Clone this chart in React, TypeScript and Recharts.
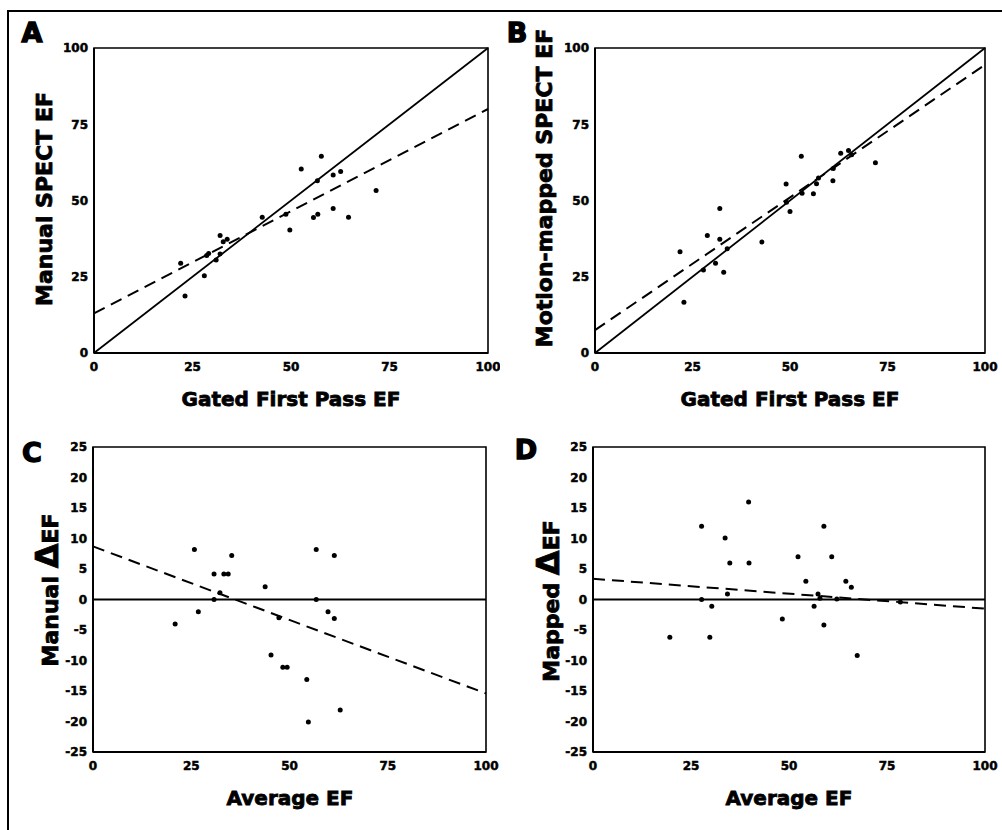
import React from "react";
import {
  ScatterChart,
  Scatter,
  XAxis,
  YAxis,
  ReferenceLine,
  ReferenceArea,
} from "recharts";

// tick labels
const efTicks = [0, 25, 50, 75, 100];
const deltaTicks = [-25, -20, -15, -10, -5, 0, 5, 10, 15, 20, 25];

// A: manual SPECT EF vs gated first pass EF
const aFirstPass = [22.0, 23.1, 28.0, 28.6, 29.1, 31.0, 32.0, 32.0, 32.8, 33.8, 42.7, 48.7, 49.7, 52.6, 57.7, 56.7, 55.7, 56.8, 60.7, 62.6, 60.7, 64.6, 71.6];
const aManual = [29.4, 18.7, 25.3, 32.0, 32.6, 30.5, 38.5, 32.5, 36.5, 37.3, 44.5, 45.5, 40.3, 60.3, 64.5, 56.5, 44.4, 45.5, 58.4, 59.5, 47.4, 44.5, 53.3];
const aFit = [{ x: 0, y: 13 }, { x: 100, y: 80 }];

// B: motion-mapped SPECT EF vs gated first pass EF
const bFirstPass = [21.8, 22.8, 27.8, 28.8, 30.9, 32.0, 32.0, 33.0, 33.9, 42.8, 49.0, 49.1, 50.0, 52.9, 53.1, 56.0, 56.8, 57.3, 61.0, 61.1, 63.0, 65.0, 65.8, 71.9];
const bMapped = [33.2, 16.6, 27.2, 38.5, 29.4, 47.4, 37.3, 26.5, 34.2, 36.4, 55.4, 49.4, 46.4, 64.5, 52.4, 52.2, 55.5, 57.4, 56.5, 60.5, 65.5, 66.4, 65.0, 62.4];
const bFit = [{ x: 0, y: 7.5 }, { x: 100, y: 94.5 }];

// C: manual delta EF vs average EF
const cAverage = [20.9, 25.8, 26.8, 30.8, 30.8, 32.3, 33.3, 34.4, 35.3, 43.8, 45.3, 47.3, 48.3, 49.4, 54.4, 54.8, 56.8, 56.8, 59.8, 61.4, 61.4, 62.9];
const cDelta = [-4.0, 8.2, -2.0, 4.2, 0, 1.1, 4.2, 4.2, 7.2, 2.1, -9.1, -3.0, -11.1, -11.1, -13.1, -20.1, 8.2, 0, -2.0, 7.2, -3.1, -18.1];
const cFit = [{ x: 0, y: 8.7 }, { x: 100, y: -15.4 }];

// D: mapped delta EF vs average EF
const dAverage = [19.6, 27.7, 27.7, 30.3, 29.8, 33.7, 34.3, 34.9, 39.7, 39.8, 48.3, 52.3, 54.3, 56.4, 57.4, 57.9, 58.9, 58.9, 60.9, 62.2, 64.5, 65.9, 67.4, 78.4];
const dDelta = [-6.2, 12.0, 0, -1.1, -6.2, 10.1, 0.9, 6.0, 16.0, 6.0, -3.2, 7.0, 3.0, -1.1, 0.9, 0.2, 12.0, -4.2, 7.0, 0.1, 3.0, 2.0, -9.2, -0.4];
const dFit = [{ x: 0, y: 3.4 }, { x: 100, y: -1.5 }];

const identity = [{ x: 0, y: 0 }, { x: 100, y: 100 }];

const FONT = "'DejaVu Sans', 'Liberation Sans', Arial, sans-serif";
const tickStyle = { fontSize: 12, fontWeight: 700, fill: "#000", fontFamily: FONT, stroke: "#000", strokeWidth: 0.5 };

const zip = (xs: number[], ys: number[]) => xs.map((x, i) => ({ x, y: ys[i] }));

const Dot = (props: any) => <circle cx={props.cx} cy={props.cy} r={2.5} fill="#000" />;

interface PanelProps {
  left: number;
  top: number;
  yWidth: number;
  margin: { top: number; right: number; bottom: number; left: number };
  xs: number[];
  ys: number[];
  fit: { x: number; y: number }[];
  delta?: boolean;
}

function Panel({ left, top, yWidth, margin, xs, ys, fit, delta }: PanelProps) {
  const yDomain = delta ? [-25, 25] : [0, 100];
  return (
    <div style={{ position: "absolute", left, top }}>
      <ScatterChart width={500} height={420} margin={margin}>
        <XAxis
          type="number"
          dataKey="x"
          domain={[0, 100]}
          ticks={efTicks}
          interval={0}
          tick={tickStyle}
          tickLine={false}
          tickSize={4}
          tickMargin={5}
          height={40}
          axisLine={{ stroke: "#000", strokeWidth: 2 }}
        />
        <YAxis
          type="number"
          dataKey="y"
          domain={yDomain}
          ticks={delta ? deltaTicks : efTicks}
          interval={0}
          tick={tickStyle}
          tickLine={false}
          tickSize={4}
          tickMargin={2}
          width={yWidth}
          axisLine={{ stroke: "#000", strokeWidth: 2 }}
        />
        <ReferenceArea x1={0} x2={100} y1={yDomain[0]} y2={yDomain[1]} fill="none" stroke="#000" strokeWidth={1.6} />
        {delta ? (
          <ReferenceLine y={0} stroke="#000" strokeWidth={2} />
        ) : (
          <ReferenceLine segment={identity} stroke="#000" strokeWidth={1.8} />
        )}
        <ReferenceLine segment={fit} stroke="#000" strokeWidth={2} strokeDasharray="12 7" />
        <Scatter data={zip(xs, ys)} shape={Dot} isAnimationActive={false} />
      </ScatterChart>
    </div>
  );
}

const txt: React.CSSProperties = {
  position: "absolute",
  fontFamily: FONT,
  fontWeight: 700,
  color: "#000",
  whiteSpace: "nowrap",
  WebkitTextStroke: "0.8px #000",
  transform: "translate(-50%, -50%)",
};

function Title({ x, y, size, rotate, heavy, children }: { x: number; y: number; size: number; rotate?: boolean; heavy?: boolean; children: React.ReactNode }) {
  return (
    <div
      style={{
        ...txt,
        left: x,
        top: y,
        fontSize: size,
        WebkitTextStroke: heavy ? "1.4px #000" : txt.WebkitTextStroke,
        transform: rotate ? "translate(-50%, -50%) rotate(-90deg)" : txt.transform,
      }}
    >
      {children}
    </div>
  );
}

export default function App() {
  return (
    <div style={{ position: "absolute", left: 0, top: 0, width: 1002, height: 830, background: "#fff", overflow: "hidden" }}>
      <div style={{ position: "absolute", left: 7, top: 10, width: 1010, height: 840, border: "2px solid #000" }} />

      <Panel left={0} top={0} yWidth={94} margin={{ top: 48, right: 12, bottom: 27, left: 0 }} xs={aFirstPass} ys={aManual} fit={aFit} />
      <Panel left={500} top={0} yWidth={95} margin={{ top: 48, right: 15, bottom: 27, left: 0 }} xs={bFirstPass} ys={bMapped} fit={bFit} />
      <Panel left={0} top={400} yWidth={93} margin={{ top: 47, right: 14, bottom: 28, left: 0 }} xs={cAverage} ys={cDelta} fit={cFit} delta />
      <Panel left={500} top={400} yWidth={93} margin={{ top: 47, right: 15, bottom: 28, left: 0 }} xs={dAverage} ys={dDelta} fit={dFit} delta />

      <Title x={32} y={32} size={27} heavy>A</Title>
      <Title x={517} y={32} size={27} heavy>B</Title>
      <Title x={32} y={452} size={27} heavy>C</Title>
      <Title x={526} y={449} size={27} heavy>D</Title>

      <Title x={44} y={199} size={22} rotate>Manual SPECT EF</Title>
      <Title x={544} y={188} size={22} rotate>Motion-mapped SPECT EF</Title>
      <Title x={47} y={590} size={22} rotate>
        Manual <span style={{ fontSize: 32 }}>Δ</span>EF
      </Title>
      <Title x={548} y={601} size={22} rotate>
        Mapped <span style={{ fontSize: 32 }}>Δ</span>EF
      </Title>

      <Title x={291} y={399} size={20}>Gated First Pass EF</Title>
      <Title x={790} y={399} size={20}>Gated First Pass EF</Title>
      <Title x={290} y={798} size={20}>Average EF</Title>
      <Title x={789} y={798} size={20}>Average EF</Title>
    </div>
  );
}
